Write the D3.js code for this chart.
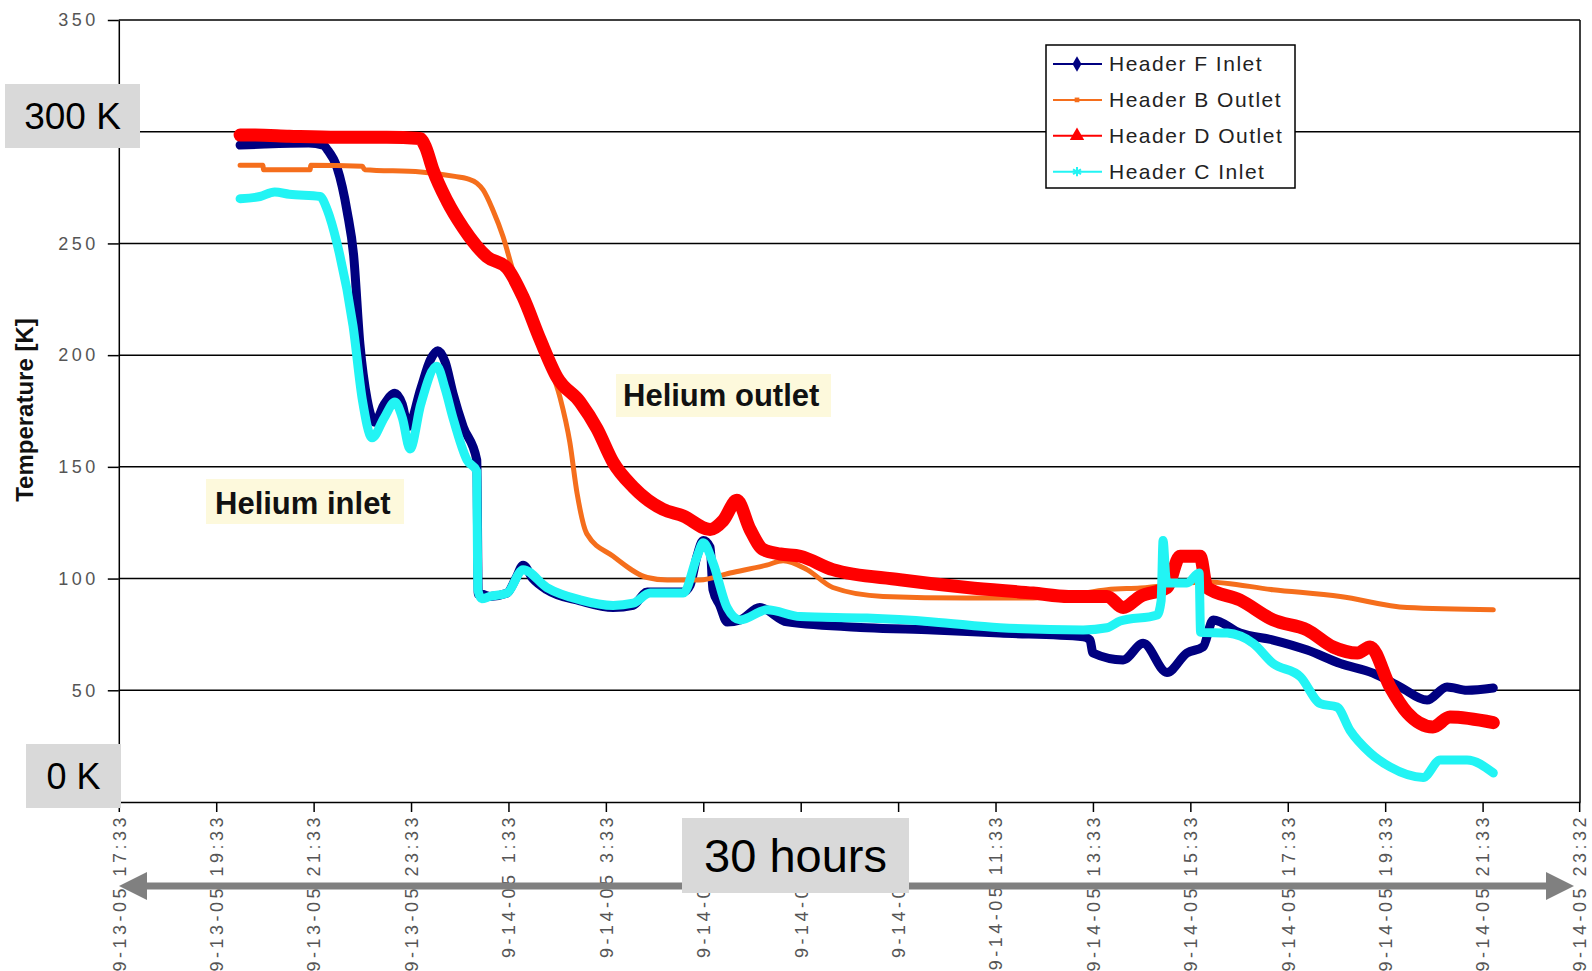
<!DOCTYPE html>
<html>
<head>
<meta charset="utf-8">
<script src="https://cdn.jsdelivr.net/npm/d3@7"></script>
<style>
  body { margin: 0; background: #fff; }
  svg { display: block; }
  text { font-family: "Liberation Sans", Arial, Helvetica, sans-serif; }
</style>
</head>
<body>
<svg id="chart" width="1592" height="971"></svg>
<script>
// Time axis: hours elapsed since 9-13-05 17:33, with a tick every two hours
const tickHours = [0, 2, 4, 6, 8, 10, 12, 14, 16, 18, 20, 22, 24, 26, 28, 29.983];
const tickLabels = [
  "9-13-05 17:33", "9-13-05 19:33", "9-13-05 21:33", "9-13-05 23:33",
  "9-14-05 1:33", "9-14-05 3:33", "9-14-05 5:33", "9-14-05 7:33",
  "9-14-05 9:33", "9-14-05 11:33", "9-14-05 13:33", "9-14-05 15:33",
  "9-14-05 17:33", "9-14-05 19:33", "9-14-05 21:33", "9-14-05 23:32"
];
const tempTicks = [0, 50, 100, 150, 200, 250, 300, 350];

const seriesNames = ["Header F Inlet", "Header B Outlet", "Header D Outlet", "Header C Inlet"];
const seriesColors = ["#000080", "#f56e1c", "#ff0000", "#22f4f4"];

// [hours elapsed, temperature K]
const headerF = [
  [2.49, 294], [3.0, 294.5], [3.9, 295], [4.2, 294], [4.28, 292], [4.48, 284], [4.69, 264],
  [4.82, 245], [4.95, 205], [5.1, 180], [5.26, 170], [5.45, 178], [5.67, 183], [5.82, 178],
  [5.94, 168], [6.2, 185], [6.4, 198], [6.55, 202], [6.7, 197], [6.86, 183], [7.07, 168],
  [7.35, 153], [7.38, 93], [7.45, 93], [7.62, 92], [7.97, 93.5], [8.15, 100], [8.3, 106],
  [8.5, 100], [8.79, 95], [9.47, 90], [10.15, 87], [10.56, 88], [10.85, 94], [11.59, 94],
  [11.73, 97], [11.87, 110], [12.0, 117], [12.14, 114], [12.2, 95], [12.34, 88], [12.49, 80.6],
  [12.76, 81.5], [13.16, 87], [13.72, 80.6], [15.36, 78], [16.72, 77], [18.09, 75.6],
  [19.8, 74], [19.94, 72.5], [20.0, 66.7], [20.62, 63.6], [21.03, 71], [21.52, 58],
  [21.93, 66.7], [22.26, 69.4], [22.47, 81.5], [23.02, 75.6], [23.7, 72.5], [24.4, 68],
  [25.08, 62], [25.75, 57.7], [26.31, 51.5], [26.86, 45.6], [27.27, 51.5], [27.68, 50], [28.22, 51]
];
const headerB = [
  [2.49, 285], [2.96, 285], [2.97, 283], [3.93, 283], [3.94, 285], [5.0, 284.5], [5.05, 283],
  [6.2, 282], [6.9, 280], [7.15, 279], [7.35, 277], [7.48, 274], [7.68, 265], [7.89, 253],
  [8.09, 238], [8.44, 217], [8.79, 198], [9.06, 181], [9.26, 161], [9.41, 138], [9.61, 120],
  [10.15, 110], [10.85, 100.5], [11.26, 99.4], [11.93, 99.4], [12.55, 102.5], [13.3, 106],
  [13.64, 108], [14.13, 104], [14.66, 96], [15.69, 92], [17.42, 91.3], [18.77, 91.3],
  [19.5, 92.5], [20.29, 95], [20.97, 95.8], [22.34, 98.5], [23.7, 95], [25.08, 92],
  [26.45, 87], [28.22, 86]
];
const headerD = [
  [2.49, 298.5], [2.8, 298.5], [3.5, 298], [4.5, 297.5], [5.5, 297.5], [6.18, 297], [6.3, 293],
  [6.45, 283], [6.74, 269], [7.07, 257], [7.56, 244], [7.97, 239], [8.3, 226], [8.65, 207],
  [9.0, 190], [9.47, 179], [9.82, 167], [10.15, 152], [10.56, 141], [11.17, 131], [11.59, 128],
  [12.14, 122], [12.41, 126], [12.69, 135], [12.96, 122], [13.23, 113], [13.58, 111],
  [13.99, 110], [14.66, 104], [16.04, 99.5], [17.42, 96], [18.77, 93.5], [19.5, 92],
  [20.29, 92], [20.62, 87], [20.97, 92], [21.52, 96], [21.79, 110], [22.2, 110], [22.34, 96],
  [23.02, 90.4], [23.7, 81.5], [24.4, 77], [24.93, 69.4], [25.43, 66.7], [25.69, 69.4],
  [26.1, 51.5], [26.45, 40], [26.98, 33.6], [27.33, 38], [28.22, 35.5]
];
const headerC = [
  [2.49, 270], [2.9, 271], [3.2, 273], [3.5, 272], [4.13, 271], [4.28, 265], [4.48, 250],
  [4.81, 213], [5.0, 180], [5.2, 163], [5.45, 172], [5.67, 179], [5.82, 172], [5.98, 158],
  [6.2, 178], [6.53, 195], [6.7, 185], [6.86, 172], [7.15, 153], [7.35, 148], [7.37, 95],
  [7.45, 91], [7.62, 92], [7.97, 93.5], [8.3, 104], [8.79, 96], [9.47, 90.5], [10.15, 88],
  [10.56, 89], [10.91, 93.5], [11.59, 93.5], [11.87, 109.7], [12.0, 116], [12.2, 107],
  [12.49, 87], [12.76, 81.5], [13.31, 86], [13.99, 83], [15.36, 82.3], [16.72, 80.6],
  [18.09, 78], [19.8, 77], [20.29, 78], [20.56, 81], [21.32, 83.7], [21.4, 90], [21.44, 117],
  [21.5, 100], [21.54, 98], [21.93, 98], [22.18, 102.5], [22.21, 76], [22.76, 75.6],
  [23.29, 71], [23.7, 62], [24.26, 56], [24.67, 44], [25.01, 42.5], [25.28, 32], [25.69, 22],
  [26.1, 15.7], [26.78, 11], [27.13, 18.8], [27.68, 18.8], [28.22, 13]
];
const seriesData = [headerF, headerB, headerD, headerC];
const seriesWidths = [9, 5, 13, 9];

const svg = d3.select("#chart");
const x = d3.scaleLinear().domain([0, 30]).range([118.8, 1580]);
const y = d3.scaleLinear().domain([0, 350]).range([802, 20]);

// horizontal gridlines
svg.append("g").selectAll("line")
  .data(tempTicks.filter(t => t > 0))
  .join("line")
  .attr("x1", x(0)).attr("x2", x(30))
  .attr("y1", d => y(d)).attr("y2", d => y(d))
  .attr("stroke", "#000").attr("stroke-width", 1.5);

// right edge of the plot area
svg.append("line")
  .attr("x1", x(30)).attr("x2", x(30)).attr("y1", y(350)).attr("y2", y(0))
  .attr("stroke", "#000").attr("stroke-width", 1.5);

// y axis
const yAxis = svg.append("g")
  .attr("transform", `translate(${x(0)},0)`)
  .call(d3.axisLeft(y).tickValues(tempTicks).tickSize(11).tickSizeOuter(0).tickPadding(8));
yAxis.selectAll("path, line").attr("stroke", "#000").attr("stroke-width", 1.5);
yAxis.selectAll("text")
  .attr("fill", "#555").style("font-size", "18px").style("letter-spacing", "3.5px")
  .attr("dx", "-1px");

// x axis
const xAxis = svg.append("g")
  .attr("transform", `translate(0,${y(0)})`)
  .call(d3.axisBottom(x).tickValues(tickHours).tickSize(10).tickSizeOuter(0)
    .tickFormat((d, i) => tickLabels[i]));
xAxis.selectAll("path, line").attr("stroke", "#000").attr("stroke-width", 1.5);
xAxis.selectAll("text")
  .attr("transform", "rotate(-90)")
  .attr("x", -12).attr("y", 0).attr("dy", "0.35em")
  .style("text-anchor", "end")
  .attr("fill", "#555").style("font-size", "18px").style("letter-spacing", "3.5px");

// y title
svg.append("text")
  .attr("transform", `translate(33,410) rotate(-90)`)
  .attr("text-anchor", "middle")
  .style("font-size", "24px").style("font-weight", "bold")
  .attr("fill", "#111")
  .text("Temperature [K]");

// series lines
const line = d3.line().x(d => x(d[0])).y(d => y(d[1])).curve(d3.curveMonotoneX);
svg.append("g").selectAll("path")
  .data(seriesData)
  .join("path")
  .attr("d", line)
  .attr("fill", "none")
  .attr("stroke", (d, i) => seriesColors[i])
  .attr("stroke-width", (d, i) => seriesWidths[i])
  .attr("stroke-linejoin", "round")
  .attr("stroke-linecap", "round");

// annotations
function note(bx, by, bw, bh, tx, ty, label) {
  svg.append("rect").attr("x", bx).attr("y", by).attr("width", bw).attr("height", bh)
    .attr("fill", "#fdf9dc");
  svg.append("text").attr("x", tx).attr("y", ty)
    .style("font-size", "31px").style("font-weight", "bold").attr("fill", "#111")
    .text(label);
}
note(616, 374, 215, 43, 623, 406, "Helium outlet");
note(206, 479, 198, 45, 215, 514, "Helium inlet");

// legend
const legend = svg.append("g").attr("transform", "translate(1046,45)");
legend.append("rect").attr("width", 249).attr("height", 143)
  .attr("fill", "#fff").attr("stroke", "#000").attr("stroke-width", 1.5);
const markerTypes = [d3.symbolDiamond, d3.symbolSquare, d3.symbolTriangle, d3.symbolAsterisk || d3.symbolCross];
const markerSizes = [70, 22, 90, 60];
seriesNames.forEach((name, i) => {
  const g = legend.append("g").attr("transform", `translate(0,${19 + i * 35.9})`);
  g.append("line").attr("x1", 7).attr("x2", 56).attr("y1", 0).attr("y2", 0)
    .attr("stroke", seriesColors[i]).attr("stroke-width", 2);
  const sym = g.append("path")
    .attr("transform", "translate(31,0)")
    .attr("d", d3.symbol().type(markerTypes[i]).size(markerSizes[i])());
  if (i === 3) sym.attr("fill", "none").attr("stroke", seriesColors[i]).attr("stroke-width", 2);
  else sym.attr("fill", seriesColors[i]);
  g.append("text").attr("x", 63).attr("y", 0).attr("dy", "0.35em")
    .style("font-size", "21px").style("letter-spacing", "1.5px").attr("fill", "#222")
    .text(name);
});

// span arrow under the time axis
const arrowY = 886;
svg.append("line").attr("x1", 140).attr("x2", 1553).attr("y1", arrowY).attr("y2", arrowY)
  .attr("stroke", "#808080").attr("stroke-width", 7);
svg.append("path").attr("fill", "#808080")
  .attr("d", `M119,${arrowY} L147,${arrowY - 14} L147,${arrowY + 14} Z`);
svg.append("path").attr("fill", "#808080")
  .attr("d", `M1574,${arrowY} L1546,${arrowY - 14} L1546,${arrowY + 14} Z`);

// grey callout boxes
function callout(bx, by, bw, bh, size, label) {
  svg.append("rect").attr("x", bx).attr("y", by).attr("width", bw).attr("height", bh)
    .attr("fill", "#d9d9d9");
  svg.append("text").attr("x", bx + bw / 2).attr("y", by + bh / 2).attr("dy", "0.36em")
    .attr("text-anchor", "middle").style("font-size", size + "px").attr("fill", "#000")
    .text(label);
}
callout(5, 84, 135, 64, 37, "300 K");
callout(26, 744, 95, 64, 36, "0 K");
callout(682, 818, 227, 75, 47, "30 hours");
</script>
</body>
</html>
